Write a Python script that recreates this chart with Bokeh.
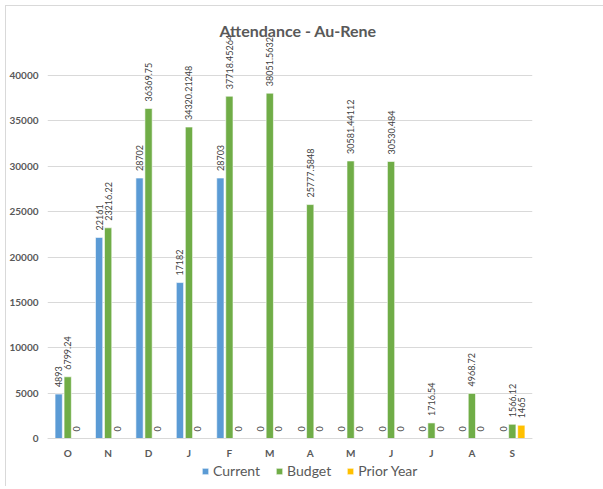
import math
from bokeh.plotting import figure
from bokeh.models import (ColumnDataSource, Range1d, FixedTicker, NumeralTickFormatter,
                          LabelSet, Label, Legend, LegendItem)
from bokeh.core.properties import value
from bokeh.transform import dodge
from bokeh.embed import file_html
from bokeh.resources import INLINE

# Monthly attendance, fiscal year October to September
months = ["O", "N", "D", "J", "F", "M", "A", "M", "J", "J", "A", "S"]
current = [4893, 22161, 28702, 17182, 28703, 0, 0, 0, 0, 0, 0, 0]
budget = [6799.24, 23216.22, 36369.75, 34320.21248, 37718.45264, 38051.5632,
          25777.5848, 30581.44112, 30530.484, 1716.54, 4968.72, 1566.12]
prior_year = [0, 0, 0, 0, 0, 0, 0, 0, 0, 0, 0, 1465]
y_ticks = [0, 5000, 10000, 15000, 20000, 25000, 30000, 35000, 40000]

FONT = "Lato"
TEXT = "#595959"
GRID = "#d9d9d9"

xs = list(range(len(months)))
source = ColumnDataSource(dict(
    x=xs,
    current=current, budget=budget, prior=prior_year,
    current_lbl=[str(v) for v in current],
    budget_lbl=[str(v) for v in budget],
    prior_lbl=[str(v) for v in prior_year],
))

# The frame reaches below zero so the legend can sit under the category axis
p = figure(frame_width=485, frame_height=466, margin=(5, 0, 0, 5),
           x_range=Range1d(-0.5, len(months) - 0.5),
           y_range=Range1d(-5289, 46061),
           output_backend="svg", toolbar_location=None,
           min_border_left=39, min_border_right=73,
           min_border_top=14, min_border_bottom=0)
p.styles = {"border-left": "1px solid #d9d9d9", "border-top": "1px solid #d9d9d9"}
p.outline_line_color = None
p.background_fill_color = "white"
p.border_fill_color = "white"

off = 0.223
bw = 0.18
series = [
    ("current", "Current", "#5B9BD5", -off),
    ("budget", "Budget", "#70AD47", 0.0),
    ("prior", "Prior Year", "#FFC000", off),
]
items = []
for col, name, color, dx in series:
    r = p.vbar(x=dodge("x", dx), top=col, width=bw, bottom=0, source=source,
               fill_color=color, line_color="white", line_width=0.6)
    items.append(LegendItem(label=name, renderers=[r]))
    p.add_layout(LabelSet(x=dodge("x", dx), y=col, text=col + "_lbl", source=source,
                          angle=math.pi / 2, text_align="left", text_baseline="middle",
                          y_offset=7, text_font=value(FONT), text_font_size=value("9px"),
                          text_color="#404040"))

# category axis drawn at zero
p.xaxis.fixed_location = 0
p.xaxis.ticker = FixedTicker(ticks=xs)
p.xaxis.major_label_overrides = {i: m for i, m in enumerate(months)}
p.xaxis.axis_line_color = GRID
p.xaxis.major_tick_line_color = None
p.xaxis.minor_tick_line_color = None
p.xaxis.major_tick_out = 0
p.xaxis.major_tick_in = 0
p.xaxis.minor_tick_out = 0
p.xaxis.major_label_standoff = 8
p.xaxis.major_label_text_font = FONT
p.xaxis.major_label_text_font_size = "10px"
p.xaxis.major_label_text_font_style = "bold"
p.xaxis.major_label_text_color = TEXT

p.yaxis.ticker = FixedTicker(ticks=y_ticks)
p.yaxis.formatter = NumeralTickFormatter(format="0")
p.yaxis.axis_line_color = None
p.yaxis.major_tick_line_color = None
p.yaxis.minor_tick_line_color = None
p.yaxis.major_tick_out = 0
p.yaxis.major_tick_in = 0
p.yaxis.minor_tick_out = 0
p.yaxis.major_label_standoff = 9
p.yaxis.major_label_text_font = FONT
p.yaxis.major_label_text_font_size = "10px"
p.yaxis.major_label_text_font_style = "bold"
p.yaxis.major_label_text_color = TEXT

p.xgrid.grid_line_color = None
p.ygrid.grid_line_color = GRID
p.ygrid.grid_line_width = 1

p.add_layout(Label(x=5.698, y=44959, text="Attendance - Au-Rene", text_align="center",
                   text_baseline="alphabetic", text_font=FONT, text_font_size="16px",
                   text_font_style="bold", text_color=TEXT))

legend = Legend(items=items, orientation="horizontal", location=(154, 7),
                border_line_color=None, background_fill_alpha=0,
                label_text_font=FONT, label_text_font_size="14px",
                label_text_color=TEXT, glyph_width=8, glyph_height=8,
                label_height=14, label_standoff=4, spacing=15, padding=1, margin=0)
p.add_layout(legend)

open("out.html", "w").write(file_html(p, INLINE))
